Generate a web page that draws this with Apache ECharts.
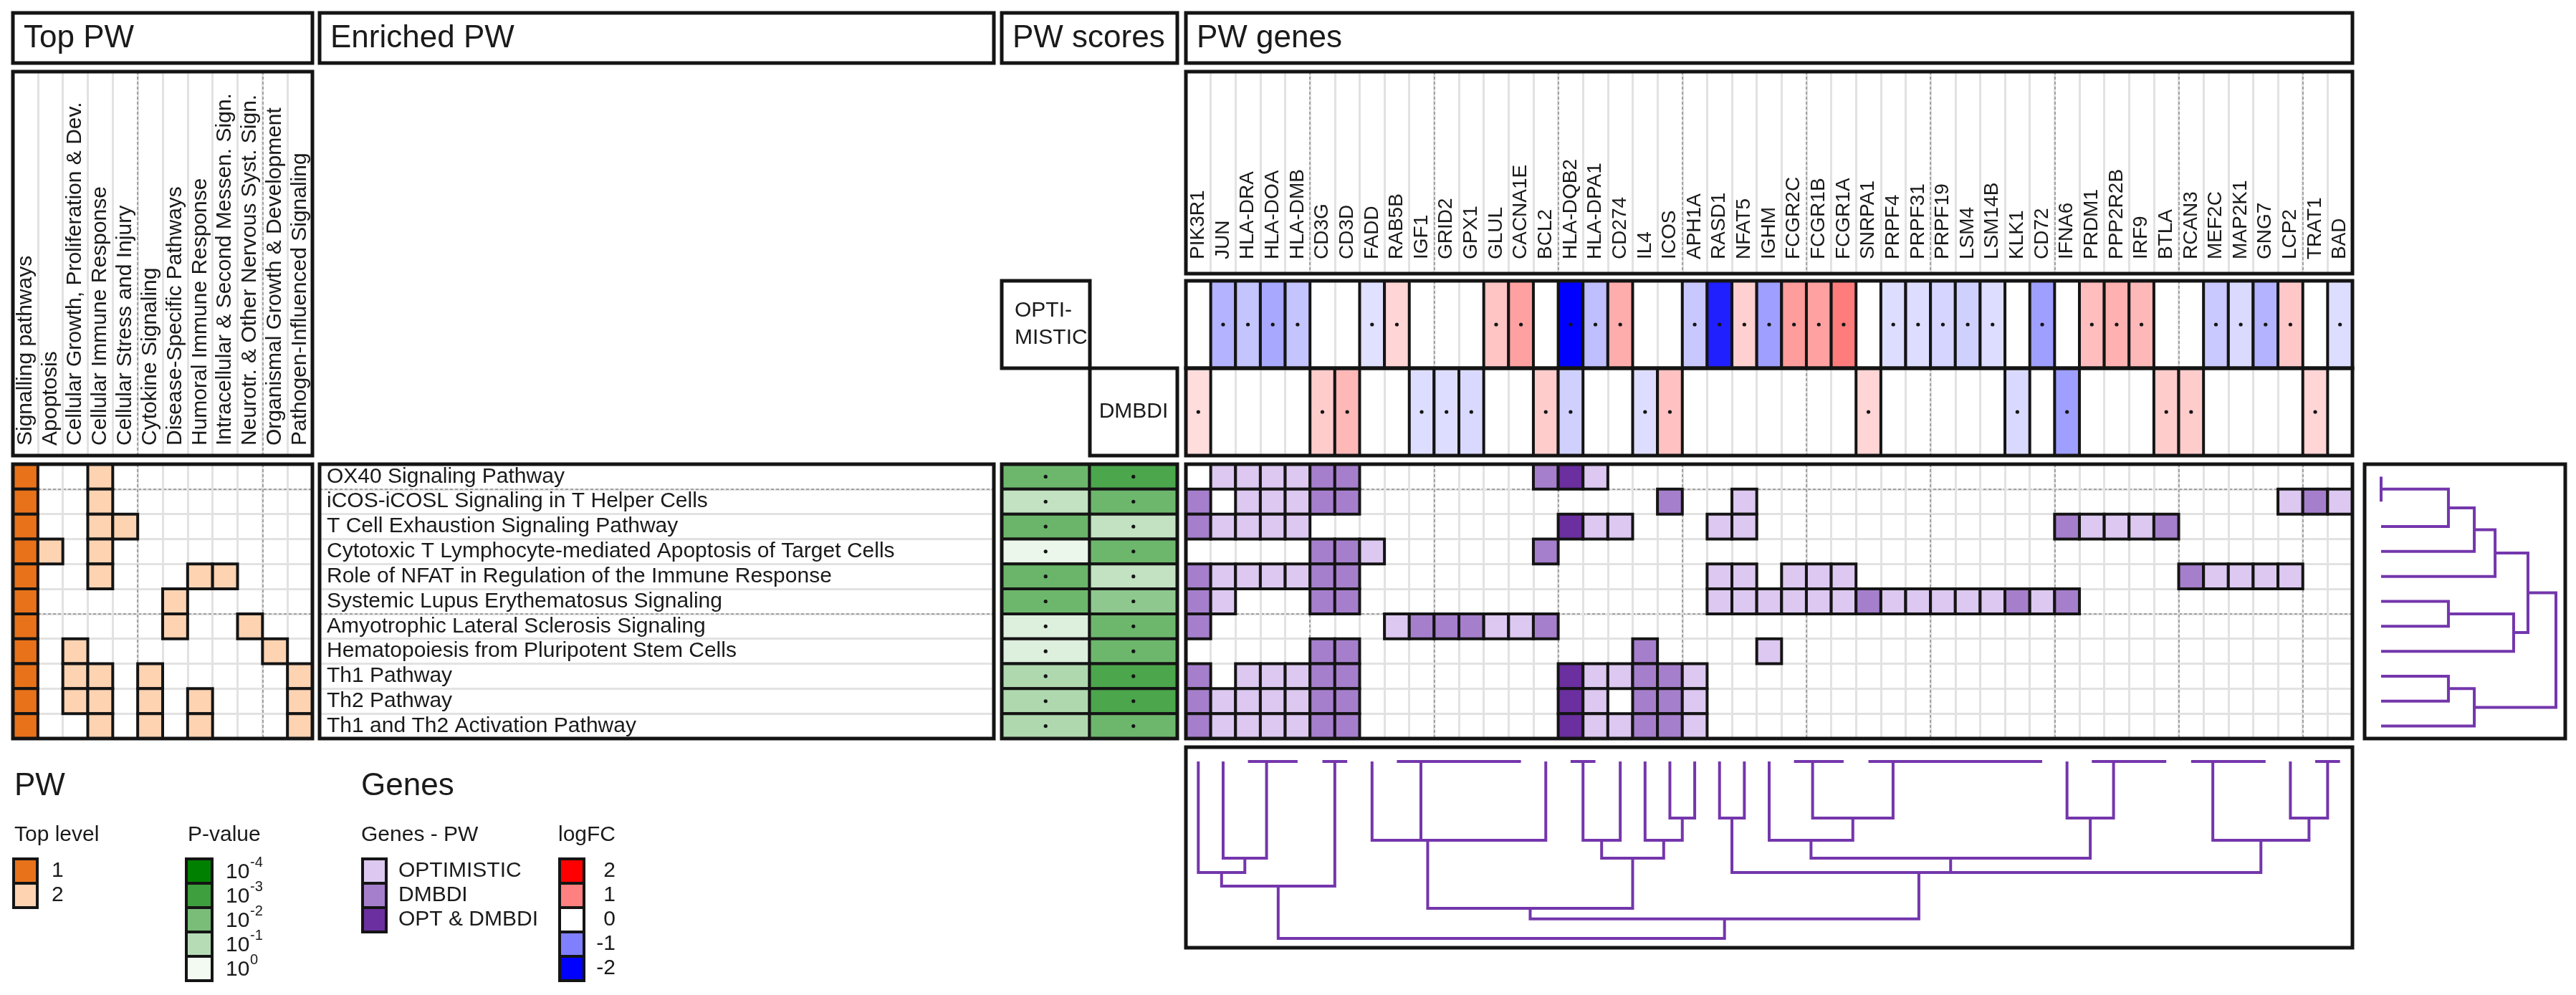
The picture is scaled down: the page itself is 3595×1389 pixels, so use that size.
<!DOCTYPE html>
<html>
<head>
<meta charset="utf-8">
<title>Pathway enrichment overview</title>
<script src="https://cdn.jsdelivr.net/npm/echarts@6/dist/echarts.min.js"></script>
<style>
html,body{margin:0;padding:0;background:#ffffff;}
#chart{width:3595px;height:1389px;}
</style>
</head>
<body>
<div id="chart"></div>
<script>
// ================= DATA =================
const topCategories = ['Signalling pathways', 'Apoptosis', 'Cellular Growth, Proliferation & Dev.',
  'Cellular Immune Response', 'Cellular Stress and Injury', 'Cytokine Signaling',
  'Disease-Specific Pathways', 'Humoral Immune Response', 'Intracellular & Second Messen. Sign.',
  'Neurotr. & Other Nervous Syst. Sign.', 'Organismal Growth & Development', 'Pathogen-Influenced Signaling'];

const pathways = ['OX40 Signaling Pathway', 'iCOS-iCOSL Signaling in T Helper Cells',
  'T Cell Exhaustion Signaling Pathway', 'Cytotoxic T Lymphocyte-mediated Apoptosis of Target Cells',
  'Role of NFAT in Regulation of the Immune Response', 'Systemic Lupus Erythematosus Signaling',
  'Amyotrophic Lateral Sclerosis Signaling', 'Hematopoiesis from Pluripotent Stem Cells',
  'Th1 Pathway', 'Th2 Pathway', 'Th1 and Th2 Activation Pathway'];

// top-level membership per pathway (1 = top level, 2 = second level), one char per category
const topLevel = ['100200000000', '100200000000', '100220000000', '120200000000',
  '100200022000', '100000200000', '100000200200', '102000000020',
  '102202000002', '102202020002', '100202020002'];

// pathway scores, -log10(p)
const optLogP = [2.2, 0.8, 2.25, 0.1, 2.25, 2.2, 0.35, 0.35, 1.1, 1.1, 1.1];
const dmbLogP = [2.75, 2.2, 0.8, 2.2, 0.8, 1.65, 2.2, 2.2, 2.75, 2.75, 2.2];

const genes = ['PIK3R1', 'JUN', 'HLA-DRA', 'HLA-DOA', 'HLA-DMB', 'CD3G', 'CD3D', 'FADD', 'RAB5B', 'IGF1',
  'GRID2', 'GPX1', 'GLUL', 'CACNA1E', 'BCL2', 'HLA-DQB2', 'HLA-DPA1', 'CD274', 'IL4', 'ICOS',
  'APH1A', 'RASD1', 'NFAT5', 'IGHM', 'FCGR2C', 'FCGR1B', 'FCGR1A', 'SNRPA1', 'PRPF4', 'PRPF31',
  'PRPF19', 'LSM4', 'LSM14B', 'KLK1', 'CD72', 'IFNA6', 'PRDM1', 'PPP2R2B', 'IRF9', 'BTLA',
  'RCAN3', 'MEF2C', 'MAP2K1', 'GNG7', 'LCP2', 'TRAT1', 'BAD'];

const logfcOpt = [null, -0.6, -0.46, -0.68, -0.46, null, null, -0.24, 0.33, null,
  null, null, 0.46, 0.74, null, -2.0, -0.5, 0.65, null, null,
  -0.43, -1.75, 0.37, -0.75, 0.78, 0.74, 1.03, null, -0.27, -0.27,
  -0.33, -0.37, -0.27, null, -0.75, null, 0.52, 0.62, 0.56, null,
  null, -0.42, -0.29, -0.6, 0.43, null, -0.27];
const logfcDmb = [0.27, null, null, null, null, 0.4, 0.56, null, null, -0.27,
  -0.27, -0.3, null, null, 0.4, -0.37, null, null, -0.27, 0.49,
  null, null, null, null, null, null, null, 0.33, null, null,
  null, null, null, -0.3, null, -0.75, null, null, null, 0.4,
  0.4, null, null, null, null, 0.33, null];

// gene-pathway membership: 0 none, 1 OPTIMISTIC, 2 DMBDI, 3 both (one char per gene)
const membership = [
  '0111122000 0000231000 0000000000 0000000000 0000000',
  '2011122000 0000000002 0010000000 0000000000 0000121',
  '2111100000 0000031100 0110000000 0000021112 0000000',
  '0000022100 0000200000 0000000000 0000000000 0000000',
  '2111122000 0000000000 0110111000 0000000000 2111100',
  '2100022000 0000000000 0111111211 1112120000 0000000',
  '2000000012 2211200000 0000000000 0000000000 0000000',
  '0000022000 0000000020 0001000000 0000000000 0000000',
  '2011122000 0000031122 1000000000 0000000000 0000000',
  '2111122000 0000031022 1000000000 0000000000 0000000',
  '2111122000 0000031122 1000000000 0000000000 0000000'];

// hierarchical clustering merges: [a, b, height]; negative = leaf number, positive = earlier merge
const pwMerge = [[-1, -2, 0], [1, -3, 0.385], [2, -4, 0.533], [3, -5, 0.652], [-6, -7, 0.385],
  [5, -8, 0.758], [4, 6, 0.84], [-9, -10, 0.385], [8, -11, 0.533], [7, 9, 1.0]];
const geneMerge = [[-4, -5, 0], [-3, 1, 0], [-6, -7, 0], [-13, -14, 0], [-12, 4, 0], [-11, 5, 0],
  [-10, 6, 0], [-9, 7, 0], [-16, -17, 0], [-26, -27, 0], [-25, 10, 0], [-34, -35, 0], [-33, 12, 0],
  [-32, 13, 0], [-31, 14, 0], [-30, 15, 0], [-29, 16, 0], [-28, 17, 0], [-39, -40, 0], [-38, 19, 0],
  [-37, 20, 0], [-43, -44, 0], [-42, 22, 0], [-41, 23, 0], [-46, -47, 0],
  [-2, 2, 0.547], [-1, 26, 0.628], [27, 3, 0.704], [8, -15, 0.445], [-8, 29, 0.445],
  [9, -18, 0.445], [-20, -21, 0.32], [-19, 32, 0.445], [31, 33, 0.547], [30, 34, 0.83],
  [-22, -23, 0.32], [11, 18, 0.32], [-24, 37, 0.445], [-36, 21, 0.32], [38, 39, 0.547],
  [-45, 25, 0.32], [24, 41, 0.445], [40, 42, 0.628], [36, 43, 0.628], [35, 44, 0.89], [28, 45, 1.0]];

// legend entries
const topLevelLegend = ['1', '2'];
const pLegendExp = [-4, -3, -2, -1, 0];
const geneLegend = ['OPTIMISTIC', 'DMBDI', 'OPT & DMBDI'];
const logfcLegend = [2, 1, 0, -1, -2];

// ================= STYLE =================
const FONT = '"Liberation Sans", Arial, Helvetica, sans-serif';
const TXT = '#1a1a1a';
const LINE = '#141414';
const GRID_GRAY = '#e2e2e2';
const DASH_GRAY = '#8c8c8c';
const PURPLE = '#7436ac';
const TOP_COL = {1: '#e8721a', 2: '#fdd3b2'};
const MEM_COL = {1: '#dcc8f0', 2: '#a67fcc', 3: '#6b2fa0'};

function lfcColor(v) {
  if (v >= 0) { const g = Math.round(255 * (1 - Math.min(v, 2) / 2)); return 'rgb(255,' + g + ',' + g + ')'; }
  const g = Math.round(255 * (1 + Math.max(v, -2) / 2)); return 'rgb(' + g + ',' + g + ',255)';
}
function pColor(t) {
  const f = Math.max(0, Math.min(t, 4)) / 4, a = [242, 250, 242], b = [0, 128, 0];
  return 'rgb(' + a.map((x, i) => Math.round(x + (b[i] - x) * f)).join(',') + ')';
}

const nR = pathways.length, nG = genes.length;
const rowsBottomFirst = pathways.slice().reverse();
const memRows = membership.map(s => s.replace(/ /g, ''));

// ================= DATA ITEMS =================
const topCells = [], scoreCells = [], memCells = [], optCells = [], dmbCells = [];
topLevel.forEach((s, r) => { for (let c = 0; c < s.length; c++) { const l = +s[c]; if (l) topCells.push([c, nR - 1 - r, l]); } });
pathways.forEach((p, r) => { scoreCells.push([0, nR - 1 - r, optLogP[r]]); scoreCells.push([1, nR - 1 - r, dmbLogP[r]]); });
memRows.forEach((s, r) => { for (let g = 0; g < nG; g++) { const m = +s[g]; if (m) memCells.push([g, nR - 1 - r, m]); } });
logfcOpt.forEach((v, g) => { if (v != null) optCells.push([g, 0, v]); });
logfcDmb.forEach((v, g) => { if (v != null) dmbCells.push([g, 0, v]); });

function dendro(merges) {
  const pos = [], hts = [], segs = [];
  const get = id => id < 0 ? [-id, 0] : [pos[id - 1], hts[id - 1]];
  merges.forEach((m, i) => {
    const A = get(m[0]), B = get(m[1]);
    pos[i] = (A[0] + B[0]) / 2; hts[i] = m[2];
    segs.push([A[0], A[1], B[0], B[1], m[2]]);
  });
  return segs;
}
const pwSegs = dendro(pwMerge);
const geneSegs = dendro(geneMerge);

// ================= LAYOUT =================
const grids = [
  {left: 18, top: 648, width: 418, height: 383},    // 0 top PW matrix
  {left: 18, top: 100, width: 418, height: 536},    // 1 top PW labels
  {left: 446, top: 648, width: 941, height: 383},   // 2 enriched PW labels
  {left: 1398, top: 648, width: 245, height: 383},  // 3 PW scores
  {left: 1655, top: 648, width: 1628, height: 383}, // 4 gene matrix
  {left: 1655, top: 100, width: 1628, height: 282}, // 5 gene labels
  {left: 1655, top: 392, width: 1628, height: 122}, // 6 OPT logFC
  {left: 1655, top: 514, width: 1628, height: 122}, // 7 DMBDI logFC
  {left: 3323, top: 648, width: 244, height: 383},  // 8 pathway dendrogram
  {left: 1655, top: 1063, width: 1628, height: 247} // 9 gene dendrogram
];

function catAxis(gi, data, dash, label) {
  return {
    type: 'category', gridIndex: gi, data: data,
    axisLine: {show: false}, axisTick: {show: false},
    axisLabel: label || {show: false},
    splitLine: dash
      ? {show: true, interval: 4, lineStyle: {color: DASH_GRAY, width: 1.5, type: [4, 3]}}
      : {show: true, interval: 0, lineStyle: {color: GRID_GRAY, width: 3}}
  };
}
function valAxis(gi, min, max, inverse) {
  return {type: 'value', gridIndex: gi, min: min, max: max, inverse: !!inverse, show: false};
}
const labelStyle = {fontSize: 30, fontFamily: FONT, color: TXT};

const xAxis = [
  catAxis(0, topCategories, false),                                   // 0
  catAxis(0, topCategories, true),                                    // 1
  catAxis(1, topCategories, false, Object.assign({show: true, inside: true, rotate: 90, margin: 14, interval: 0}, labelStyle)), // 2
  catAxis(1, topCategories, true),                                    // 3
  valAxis(2, 0, 1),                                                   // 4
  {type: 'category', gridIndex: 3, data: ['OPTIMISTIC', 'DMBDI'], show: false}, // 5
  catAxis(4, genes, false),                                           // 6
  catAxis(4, genes, true),                                            // 7
  catAxis(5, genes, false, {show: true, inside: true, rotate: 90, margin: 20, interval: 0, fontSize: 28, fontFamily: FONT, color: TXT}), // 8
  catAxis(5, genes, true),                                            // 9
  catAxis(6, genes, false),                                           // 10
  catAxis(6, genes, true),                                            // 11
  catAxis(7, genes, false),                                           // 12
  catAxis(7, genes, true),                                            // 13
  valAxis(8, 0, 1),                                                   // 14
  valAxis(9, 0.5, nG + 0.5)                                           // 15
];
const yAxis = [
  catAxis(0, rowsBottomFirst, false),                                 // 0
  catAxis(0, rowsBottomFirst, true),                                  // 1
  valAxis(1, 0, 1),                                                   // 2
  catAxis(2, rowsBottomFirst, false, Object.assign({show: true, inside: true, margin: 10, interval: 0}, labelStyle)), // 3
  catAxis(2, rowsBottomFirst, true),                                  // 4
  {type: 'category', gridIndex: 3, data: rowsBottomFirst, show: false}, // 5
  catAxis(4, rowsBottomFirst, false),                                 // 6
  catAxis(4, rowsBottomFirst, true),                                  // 7
  valAxis(5, 0, 1),                                                   // 8
  {type: 'category', gridIndex: 6, data: ['OPTIMISTIC'], show: false}, // 9
  {type: 'category', gridIndex: 7, data: ['DMBDI'], show: false},      // 10
  valAxis(8, 0.5, nR + 0.5, true),                                    // 11
  valAxis(9, 0, 1, true)                                              // 12
];

function cellSeries(name, xi, yi, data, colorFn, dot) {
  return {
    name: name, type: 'custom', xAxisIndex: xi, yAxisIndex: yi, data: data,
    encode: {x: 0, y: 1}, z: 5, silent: true,
    renderItem: function (params, api) {
      const c = api.coord([api.value(0), api.value(1)]);
      const s = api.size([1, 1]);
      const ch = [{type: 'rect', shape: {x: c[0] - s[0] / 2, y: c[1] - s[1] / 2, width: s[0], height: s[1]},
        style: {fill: colorFn(api.value(2)), stroke: LINE, lineWidth: 4}}];
      if (dot) ch.push({type: 'circle', shape: {cx: c[0], cy: c[1], r: 2.6}, style: {fill: LINE}});
      return {type: 'group', children: ch};
    }
  };
}

const series = [
  cellSeries('Top PW', 0, 0, topCells, v => TOP_COL[v], false),
  cellSeries('PW scores', 5, 5, scoreCells, pColor, true),
  cellSeries('PW genes', 6, 6, memCells, v => MEM_COL[v], false),
  cellSeries('logFC OPTIMISTIC', 10, 9, optCells, lfcColor, true),
  cellSeries('logFC DMBDI', 12, 10, dmbCells, lfcColor, true),
  {
    name: 'PW dendrogram', type: 'custom', xAxisIndex: 14, yAxisIndex: 11, data: pwSegs,
    encode: {x: [1, 3, 4], y: [0, 2]}, z: 5, silent: true,
    renderItem: function (params, api) {
      const pa = api.value(0), ha = api.value(1), pb = api.value(2), hb = api.value(3), h = api.value(4);
      return {type: 'polyline', shape: {points: [api.coord([ha, pa]), api.coord([h, pa]), api.coord([h, pb]), api.coord([hb, pb])]},
        style: {stroke: PURPLE, lineWidth: 4, fill: 'none'}};
    }
  },
  {
    name: 'Gene dendrogram', type: 'custom', xAxisIndex: 15, yAxisIndex: 12, data: geneSegs,
    encode: {x: [0, 2], y: [1, 3, 4]}, z: 5, silent: true,
    renderItem: function (params, api) {
      const pa = api.value(0), ha = api.value(1), pb = api.value(2), hb = api.value(3), h = api.value(4);
      return {type: 'polyline', shape: {points: [api.coord([pa, ha]), api.coord([pa, h]), api.coord([pb, h]), api.coord([pb, hb])]},
        style: {stroke: PURPLE, lineWidth: 4, fill: 'none'}};
    }
  }
];

// ================= FRAMES, HEADERS, LEGENDS =================
const G = [];
function frame(x, y, w, h, lw) {
  G.push({type: 'rect', z: 100, silent: true, shape: {x: x, y: y, width: w, height: h},
    style: {fill: 'none', stroke: LINE, lineWidth: lw || 5}});
}
function txt(x, y, t, size, align, extra) {
  G.push({type: 'text', z: 101, silent: true, x: x, y: y,
    style: Object.assign({text: t, fontSize: size, fontFamily: FONT, fill: TXT,
      align: align || 'left', verticalAlign: 'middle'}, extra || {})});
}
function swatch(x, y, w, h, color) {
  G.push({type: 'rect', z: 100, silent: true, shape: {x: x, y: y, width: w, height: h},
    style: {fill: color, stroke: LINE, lineWidth: 4}});
}

// header boxes
[[18, 418, 'Top PW'], [446, 941, 'Enriched PW'], [1398, 245, 'PW scores'], [1655, 1628, 'PW genes']].forEach(h => {
  frame(h[0], 18, h[1], 70);
  txt(h[0] + 15, 54, h[2], 44);
});
// panel frames
grids.forEach((g, i) => { if (i !== 8 && i !== 9) frame(g.left, g.top, g.width, g.height); });
frame(3300, 648, 280, 383);
frame(1655, 1043, 1628, 280);
// score column captions
frame(1398, 392, 123, 122);
txt(1416, 453, 'OPTI-\nMISTIC', 30, 'left', {lineHeight: 38});
frame(1521, 514, 122, 122);
txt(1582, 575, 'DMBDI', 30, 'center');

// legends
const LY = 1199, LH = 34;
txt(20, 1098, 'PW', 44);
txt(504, 1098, 'Genes', 44);
txt(20, 1166, 'Top level', 30);
txt(262, 1166, 'P-value', 30);
txt(504, 1166, 'Genes - PW', 30);
txt(779, 1166, 'logFC', 30);
topLevelLegend.forEach((l, i) => {
  swatch(19, LY + i * LH, 33, LH, TOP_COL[+l]);
  txt(72, LY + i * LH + LH / 2, l, 30);
});
pLegendExp.forEach((e, i) => {
  swatch(260, LY + i * LH, 36, LH, pColor(-e));
  txt(315, LY + i * LH + LH / 2 + 2, '10', 30);
  txt(349, LY + i * LH + LH / 2 - 12, String(e), 20);
});
geneLegend.forEach((l, i) => {
  swatch(506, LY + i * LH, 33, LH, MEM_COL[i + 1]);
  txt(556, LY + i * LH + LH / 2, l, 30);
});
logfcLegend.forEach((v, i) => {
  swatch(781, LY + i * LH, 34, LH, lfcColor(v));
  txt(859, LY + i * LH + LH / 2, String(v), 30, 'right');
});

const chart = echarts.init(document.getElementById('chart'), null, {renderer: 'canvas'});
chart.setOption({
  animation: false,
  backgroundColor: '#ffffff',
  grid: grids,
  xAxis: xAxis,
  yAxis: yAxis,
  series: series,
  graphic: {elements: G}
});
</script>
</body>
</html>
